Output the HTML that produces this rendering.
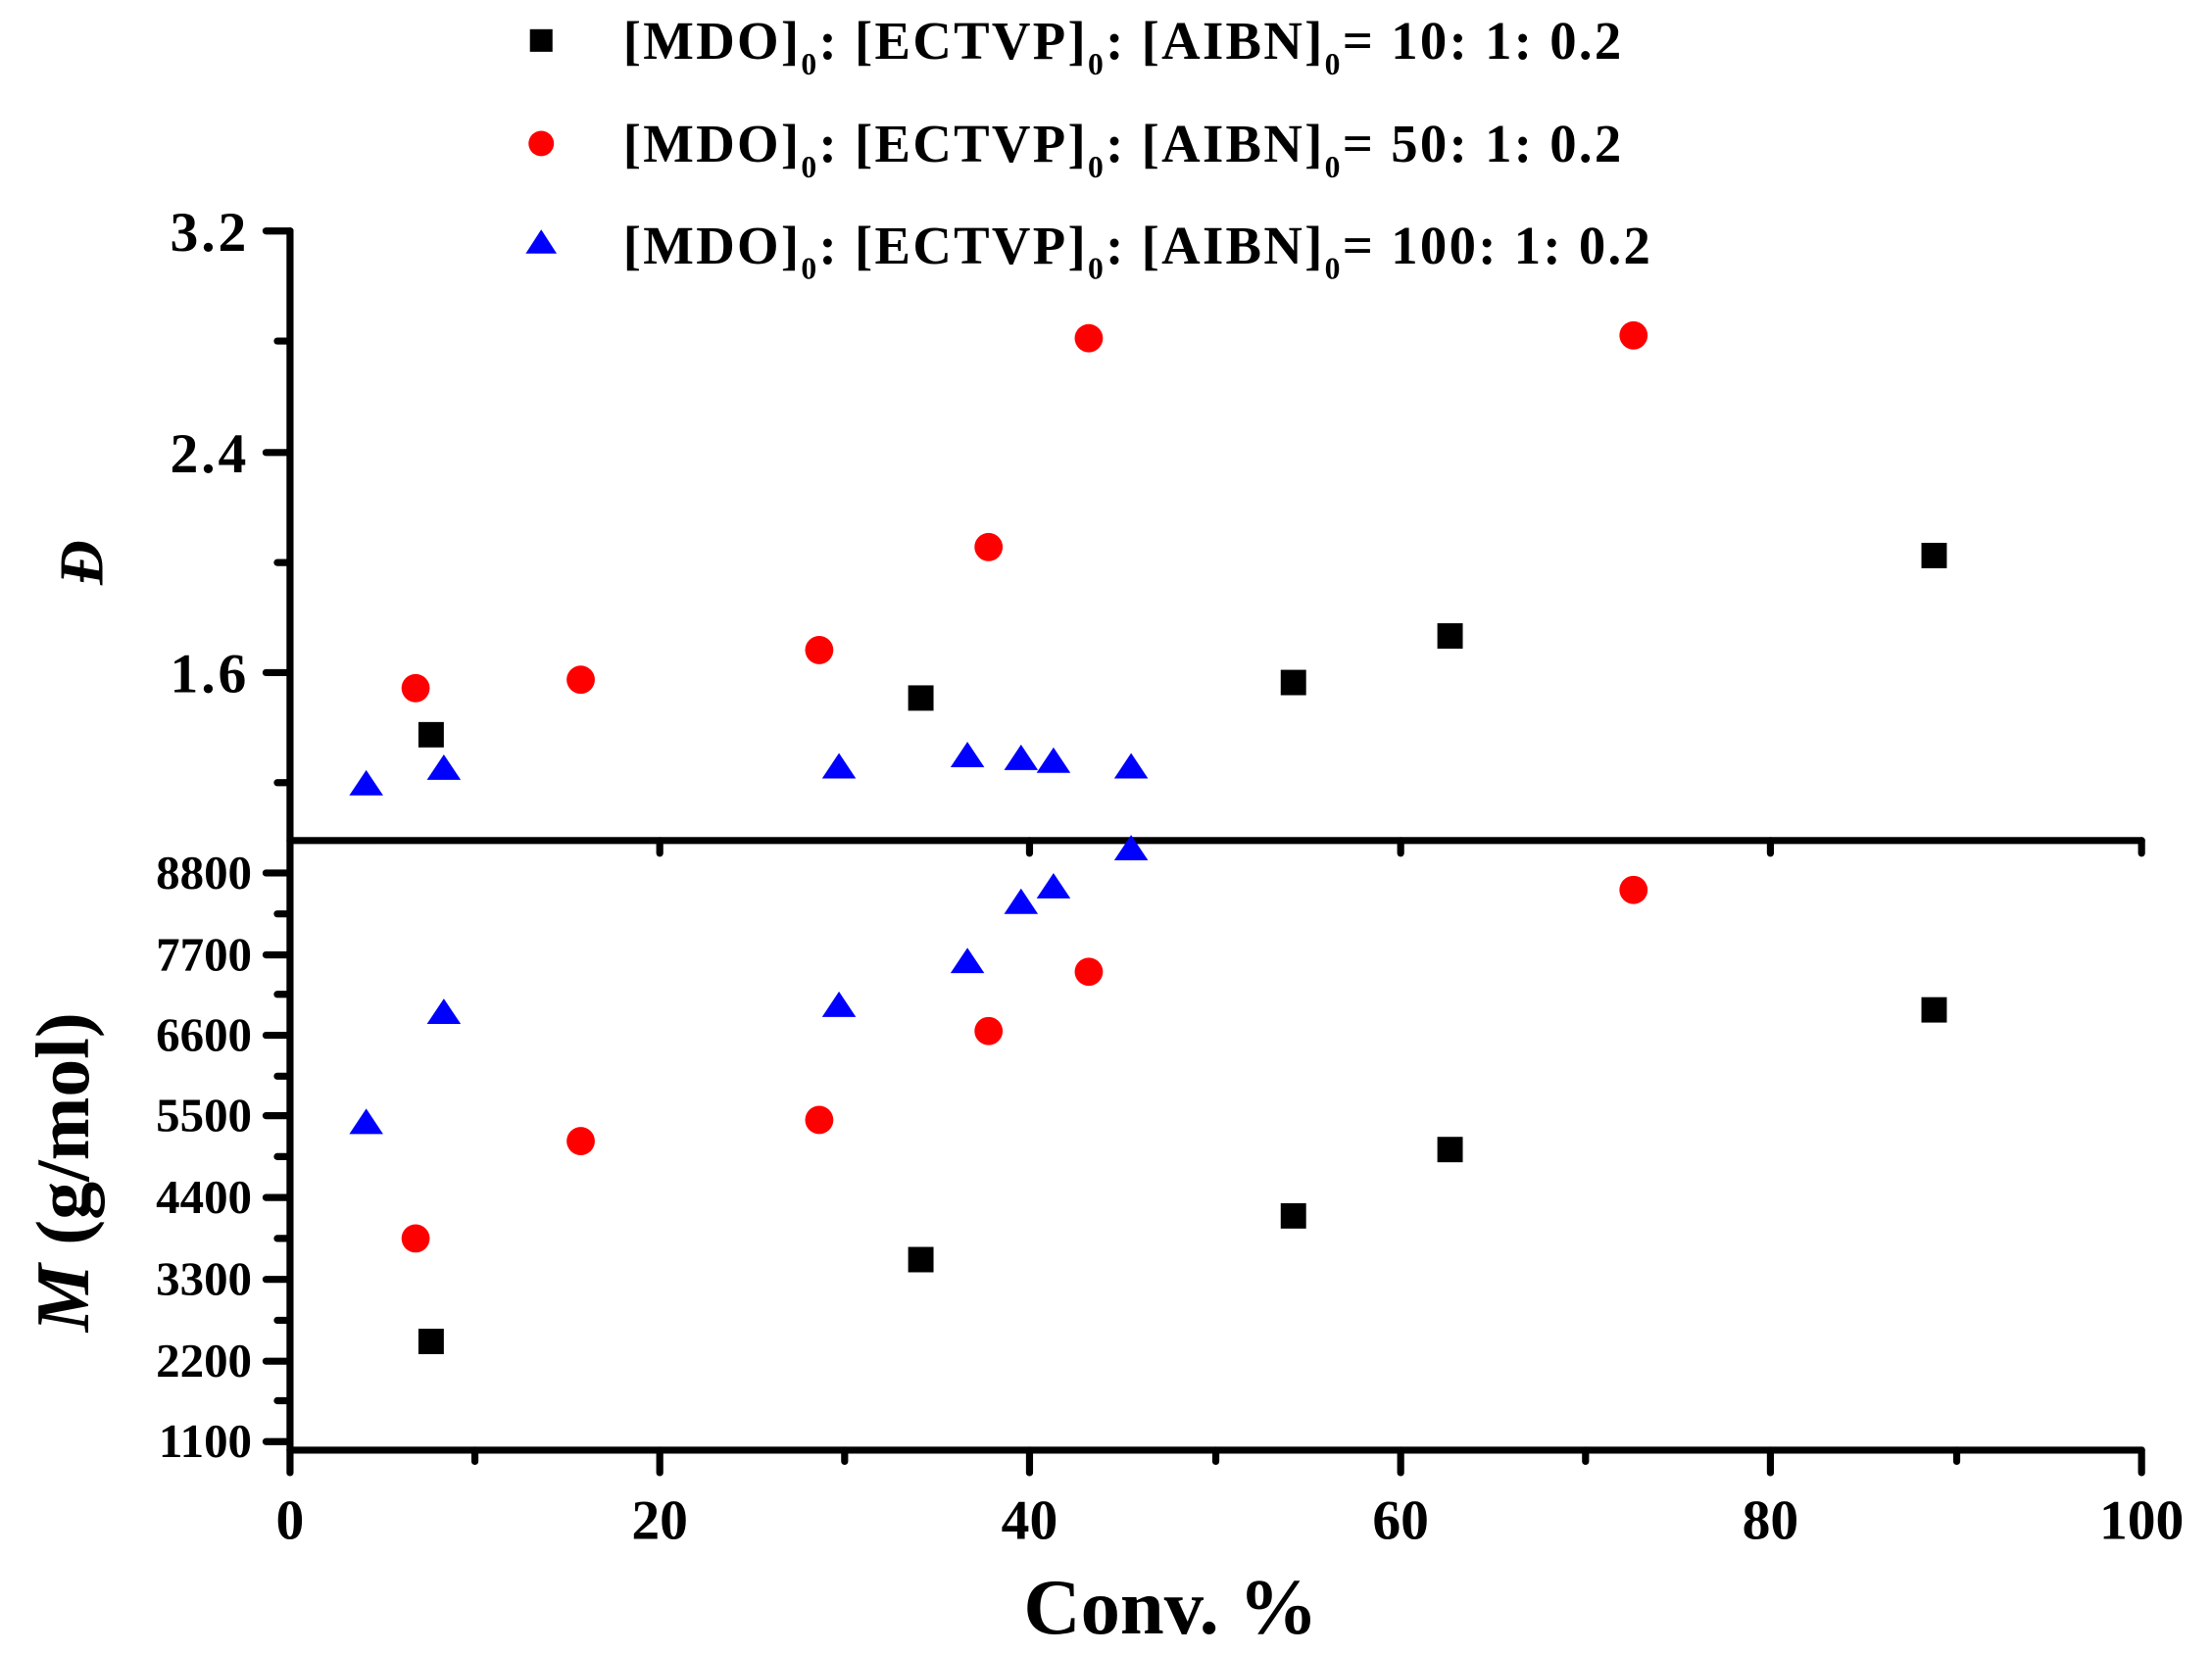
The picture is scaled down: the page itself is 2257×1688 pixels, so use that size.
<!DOCTYPE html>
<html><head><meta charset="utf-8"><style>
html,body{margin:0;padding:0;background:#fff;}
svg{display:block;}
text{font-family:"Liberation Serif",serif;font-weight:bold;fill:#000;}
</style></head><body>
<svg width="2257" height="1688" viewBox="-0.5 -0.7 1567.4 1172.2" preserveAspectRatio="none" xmlns="http://www.w3.org/2000/svg">
<rect x="-10" y="-10" width="1620" height="1220" fill="#fff"/>
<g stroke="#000" stroke-width="5" stroke-linecap="round" fill="none">
<line x1="205" y1="163" x2="205" y2="1027"/>
<line x1="205" y1="595" x2="1517" y2="595"/>
<line x1="1517" y1="595" x2="1517" y2="604"/>
<line x1="188" y1="163" x2="205" y2="163"/>
<line x1="196" y1="241" x2="205" y2="241"/>
<line x1="188" y1="320" x2="205" y2="320"/>
<line x1="196" y1="398" x2="205" y2="398"/>
<line x1="188" y1="476" x2="205" y2="476"/>
<line x1="196" y1="554" x2="205" y2="554"/>
<line x1="467" y1="595" x2="467" y2="604"/>
<line x1="729" y1="595" x2="729" y2="604"/>
<line x1="992" y1="595" x2="992" y2="604"/>
<line x1="1254" y1="595" x2="1254" y2="604"/>
<line x1="205" y1="1027" x2="1517" y2="1027"/>
<line x1="1517" y1="1027" x2="1517" y2="1043"/>
<line x1="205" y1="1027" x2="205" y2="1043"/>
<line x1="336" y1="1027" x2="336" y2="1035"/>
<line x1="467" y1="1027" x2="467" y2="1043"/>
<line x1="598" y1="1027" x2="598" y2="1035"/>
<line x1="729" y1="1027" x2="729" y2="1043"/>
<line x1="861" y1="1027" x2="861" y2="1035"/>
<line x1="992" y1="1027" x2="992" y2="1043"/>
<line x1="1123" y1="1027" x2="1123" y2="1035"/>
<line x1="1254" y1="1027" x2="1254" y2="1043"/>
<line x1="1386" y1="1027" x2="1386" y2="1035"/>
<line x1="188" y1="618" x2="205" y2="618"/>
<line x1="196" y1="647" x2="205" y2="647"/>
<line x1="188" y1="676" x2="205" y2="676"/>
<line x1="196" y1="704" x2="205" y2="704"/>
<line x1="188" y1="733" x2="205" y2="733"/>
<line x1="196" y1="762" x2="205" y2="762"/>
<line x1="188" y1="790" x2="205" y2="790"/>
<line x1="196" y1="819" x2="205" y2="819"/>
<line x1="188" y1="848" x2="205" y2="848"/>
<line x1="196" y1="877" x2="205" y2="877"/>
<line x1="188" y1="906" x2="205" y2="906"/>
<line x1="196" y1="935" x2="205" y2="935"/>
<line x1="188" y1="964" x2="205" y2="964"/>
<line x1="196" y1="992" x2="205" y2="992"/>
<line x1="188" y1="1021" x2="205" y2="1021"/>
</g>
<g font-size="40" text-anchor="end" letter-spacing="2">
<text x="176" y="177">3.2</text>
<text x="176" y="334">2.4</text>
<text x="176" y="490">1.6</text>
</g>
<g font-size="34" text-anchor="end">
<text x="178" y="629">8800</text>
<text x="178" y="687">7700</text>
<text x="178" y="744">6600</text>
<text x="178" y="801">5500</text>
<text x="178" y="859">4400</text>
<text x="178" y="917">3300</text>
<text x="178" y="975">2200</text>
<text x="178" y="1032">1100</text>
</g>
<g font-size="40" text-anchor="middle">
<text x="205" y="1090">0</text>
<text x="467" y="1090">20</text>
<text x="729" y="1090">40</text>
<text x="992" y="1090">60</text>
<text x="1254" y="1090">80</text>
<text x="1517" y="1090">100</text>
</g>
<text x="829" y="1157" font-size="56" text-anchor="middle">Conv. %</text>
<text transform="translate(72,398) rotate(-90)" font-size="44" text-anchor="middle" font-style="italic">Đ</text>
<text transform="translate(62,830) rotate(-90)" font-size="54" text-anchor="middle"><tspan font-style="italic">M</tspan> (g/mol)</text>
<rect x="375" y="20" width="16" height="16" fill="#000"/>
<circle cx="383" cy="101" r="9" fill="#f00"/>
<polygon points="383,162 372,179 394,179" fill="#00f"/>
<g font-size="38" letter-spacing="1.6">
<text x="441" y="41">[MDO]<tspan font-size="22" dy="11">0</tspan><tspan dy="-11">: [ECTVP]</tspan><tspan font-size="22" dy="11">0</tspan><tspan dy="-11">: [AIBN]</tspan><tspan font-size="22" dy="11">0</tspan><tspan dy="-11">= 10: 1: 0.2</tspan></text>
<text x="441" y="114">[MDO]<tspan font-size="22" dy="11">0</tspan><tspan dy="-11">: [ECTVP]</tspan><tspan font-size="22" dy="11">0</tspan><tspan dy="-11">: [AIBN]</tspan><tspan font-size="22" dy="11">0</tspan><tspan dy="-11">= 50: 1: 0.2</tspan></text>
<text x="441" y="186">[MDO]<tspan font-size="22" dy="11">0</tspan><tspan dy="-11">: [ECTVP]</tspan><tspan font-size="22" dy="11">0</tspan><tspan dy="-11">: [AIBN]</tspan><tspan font-size="22" dy="11">0</tspan><tspan dy="-11">= 100: 1: 0.2</tspan></text>
</g>
<g fill="#000">
<rect x="296" y="511" width="18" height="18"/>
<rect x="643" y="485" width="18" height="18"/>
<rect x="907" y="474" width="18" height="18"/>
<rect x="1018" y="441" width="18" height="18"/>
<rect x="1361" y="384" width="18" height="18"/>
<rect x="296" y="941" width="18" height="18"/>
<rect x="643" y="883" width="18" height="18"/>
<rect x="907" y="852" width="18" height="18"/>
<rect x="1018" y="805" width="18" height="18"/>
<rect x="1361" y="706" width="18" height="18"/>
</g>
<g fill="#f00">
<circle cx="294" cy="487" r="10"/>
<circle cx="411" cy="481" r="10"/>
<circle cx="580" cy="460" r="10"/>
<circle cx="700" cy="387" r="10"/>
<circle cx="771" cy="239" r="10"/>
<circle cx="1157" cy="237" r="10"/>
<circle cx="294" cy="877" r="10"/>
<circle cx="411" cy="808" r="10"/>
<circle cx="580" cy="793" r="10"/>
<circle cx="700" cy="730" r="10"/>
<circle cx="771" cy="688" r="10"/>
<circle cx="1157" cy="630" r="10"/>
</g>
<g fill="#00f">
<polygon points="259,545 247,563 271,563"/>
<polygon points="314,534 302,552 326,552"/>
<polygon points="594,533 582,551 606,551"/>
<polygon points="685,525 673,543 697,543"/>
<polygon points="723,527 711,545 735,545"/>
<polygon points="746,529 734,547 758,547"/>
<polygon points="801,533 789,551 813,551"/>
<polygon points="259,785 247,803 271,803"/>
<polygon points="314,707 302,725 326,725"/>
<polygon points="594,702 582,720 606,720"/>
<polygon points="685,671 673,689 697,689"/>
<polygon points="723,629 711,647 735,647"/>
<polygon points="746,618 734,636 758,636"/>
<polygon points="801,591 789,609 813,609"/>
</g>
</svg>
</body></html>
